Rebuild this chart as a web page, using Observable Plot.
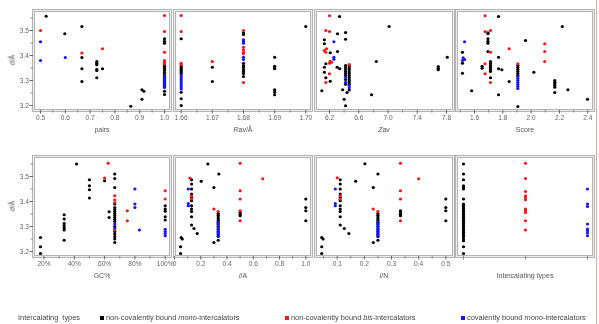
<!DOCTYPE html>
<html><head><meta charset="utf-8">
<script src="https://cdn.jsdelivr.net/npm/d3@7"></script>
<script src="https://cdn.jsdelivr.net/npm/@observablehq/plot@0.6"></script>
<style>
body{margin:0;background:#fff;font-family:"Liberation Sans",Arial,sans-serif;}
#chart{position:relative;width:599px;height:324px;overflow:hidden;background:#fff;}
.p{position:absolute;will-change:transform;}
.lab{position:absolute;font-size:7px;color:#555;white-space:nowrap;transform:translate(-50%,-50%);line-height:1;will-change:transform;}
.ylab{position:absolute;font-size:7px;color:#555;white-space:nowrap;transform:translate(-50%,-50%) rotate(-90deg);line-height:1;will-change:transform;}
.leg{position:absolute;font-size:7.4px;color:#444;white-space:nowrap;line-height:1;transform:translateY(-50%);will-change:transform;}
.sw{position:absolute;width:4px;height:4px;transform:translateY(-50%);}
#redline{position:absolute;left:596px;top:0;width:1px;height:324px;background:#f2a3a3;}
</style></head><body><div id="chart"></div><script>
// ---- data ----
const typeKeys = ["n", "b", "c"];
const typeNames = ["non-covalently bound <i>mono</i>-intercalators", "non-covalently bound <i>bis</i>-intercalators", "covalently bound <i>mono</i>-intercalators"];
const typeColors = ["#000000", "#ff1414", "#1414ff"];
const yTicks = [3.2, 3.3, 3.4, 3.5];
const yMinor = [3.25, 3.35, 3.45, 3.55];

// groups: [x, type, ...y values]
const pairsPts = [
  [0.523,"n",3.557],[0.5,"b",3.5],[0.5,"c",3.455,3.38],[0.598,"n",3.487],[0.6,"c",3.392],
  [0.667,"n",3.516,3.392,3.347,3.296],[0.667,"b",3.41],
  [0.727,"n",3.376,3.369,3.363,3.344,3.34,3.311],[0.75,"b",3.427],[0.75,"n",3.347],
  [0.864,"n",3.197],[0.909,"n",3.263,3.225],[0.917,"n",3.257],
  [1.0,"n",3.467,3.457,3.449,3.364,3.356,3.348,3.34,3.332,3.324,3.316,3.308,3.3,3.292,3.284,3.276,3.257,3.244],
  [1.0,"b",3.56,3.496,3.413,3.38,3.373,3.367],
  [1.0,"c",3.32,3.312,3.304,3.296,3.288,3.28,3.272]
];
const ravPts = [
  [1.66,"n",3.467,3.358,3.352,3.346,3.34,3.334,3.328,3.253,3.227,3.2],
  [1.66,"b",3.56,3.496,3.369,3.364],
  [1.66,"c",3.322,3.314,3.306,3.298,3.29,3.282,3.274,3.266],
  [1.67,"b",3.376],[1.67,"n",3.353,3.296],
  [1.68,"n",3.491,3.484,3.369,3.36,3.353,3.344,3.336,3.328,3.316],
  [1.68,"b",3.5,3.433,3.423,3.413,3.407,3.292],
  [1.68,"c",3.463,3.456,3.449,3.393,3.384],
  [1.69,"n",3.393,3.357,3.351,3.347,3.263,3.253,3.243],
  [1.70,"n",3.516]
];
const zavPts = [
  [6.2,"b",3.559,3.496,3.369,3.327],[6.15,"b",3.5,3.413,3.292],[6.337,"n",3.556],[6.31,"n",3.487,3.416],
  [6.42,"n",3.492,3.465],[6.13,"n",3.463,3.447,3.353,3.333],[6.26,"c",3.455,3.393,3.385],
  [6.13,"b",3.42],[6.16,"b",3.427],[6.21,"n",3.411,3.297],[6.21,"b",3.377],[6.23,"b",3.373],
  [6.15,"n",3.367,3.311],[6.095,"n",3.259],[6.305,"n",3.353],[6.34,"n",3.347],[6.47,"b",3.364],
  [6.42,"n",3.36,3.352,3.344,3.336,3.328,3.32,3.304,3.285,3.199],[6.42,"c",3.313,3.293],
  [6.47,"n",3.358,3.35,3.342,3.334,3.326,3.318,3.31,3.302,3.294,3.286,3.262],[6.47,"c",3.28,3.271],
  [6.38,"n",3.263],[6.44,"n",3.252],[6.4,"n",3.225],
  [6.775,"n",3.243],[6.84,"n",3.376],[7.016,"n",3.516],[7.687,"n",3.356,3.349,3.343],[7.81,"n",3.393]
];
const scorePts = [
  [1.675,"b",3.559,3.496,3.367,3.327],[1.77,"n",3.556,3.393,3.347,3.243],[1.713,"b",3.5,3.413,3.292],
  [1.695,"n",3.491,3.487,3.467,3.457,3.449,3.416],[1.53,"c",3.455,3.384],[1.52,"c",3.391],[1.515,"c",3.38],
  [1.845,"b",3.427],[1.845,"n",3.296],[1.96,"n",3.46],[2.22,"n",3.516],[2.096,"b",3.447,3.416,3.376],
  [1.515,"n",3.413,3.369,3.329],[1.654,"n",3.357,3.349],[1.713,"n",3.376,3.368,3.36,3.352,3.344,3.336,3.311],
  [1.793,"n",3.343],[1.58,"n",3.259],[1.906,"b",3.367],[1.906,"n",3.36,3.352,3.344,3.336,3.328,3.32,3.196],
  [1.906,"c",3.316,3.308,3.3,3.292,3.284,3.276,3.268],[2.019,"n",3.333],
  [2.167,"n",3.3,3.293,3.287,3.28,3.273,3.252],[2.26,"n",3.263],[2.398,"n",3.225]
];
const gcPts = [
  [0.177,"n",3.256,3.219,3.192],[0.333,"n",3.347,3.33,3.312,3.303,3.294,3.286,3.245],[0.415,"n",3.55],
  [0.5,"n",3.487,3.463,3.447,3.414],[0.6,"n",3.483],[0.6,"b",3.494],[0.624,"b",3.553],[0.63,"n",3.359,3.336],
  [0.667,"n",3.51,3.492,3.456,3.39,3.376,3.368,3.36,3.352,3.344,3.336,3.328,3.32,3.3,3.28,3.27,3.26,3.25,3.236],
  [0.667,"b",3.423,3.407,3.396,3.286],[0.667,"c",3.31,3.294],[0.75,"b",3.363,3.323],
  [0.8,"c",3.45,3.39,3.376],[0.83,"c",3.286],
  [1.0,"n",3.383,3.37,3.361,3.339,3.326],[1.0,"b",3.443,3.41],[1.0,"c",3.289,3.28,3.272,3.263]
];
const iaPts = [
  [0.254,"n",3.55],[0.5,"b",3.553,3.443,3.41,3.363,3.323],[0.338,"n",3.51],[0.672,"b",3.491],[0.117,"b",3.494],
  [0.13,"n",3.487,3.47,3.45,3.43,3.416,3.403,3.383,3.37,3.36,3.339,3.306],[0.13,"b",3.423,3.41],
  [0.105,"c",3.45,3.392,3.383],[0.204,"n",3.481],[0.3,"n",3.456,3.236],[0.3,"b",3.37],
  [0.148,"n",3.292],[0.173,"n",3.272],[0.051,"n",3.256],[0.059,"n",3.25],[0.046,"n",3.219,3.192],
  [0.333,"b",3.36],[0.333,"n",3.352,3.345,3.338,3.331,3.324,3.317,3.31,3.3,3.29,3.28,3.27,3.26,3.245],
  [0.333,"c",3.316,3.308,3.3,3.292,3.284,3.276,3.268,3.262],
  [0.5,"n",3.356,3.349,3.343],[1.0,"n",3.41,3.376,3.363,3.323]
];
const inPts = [
  [0.202,"n",3.551],[0.333,"b",3.553,3.443,3.41,3.323],[0.25,"n",3.51],[0.4,"b",3.491],[0.1,"b",3.495],
  [0.111,"n",3.487,3.47,3.45,3.43,3.416,3.403,3.383,3.37,3.36,3.339,3.306],[0.111,"b",3.423,3.41],
  [0.093,"c",3.45,3.392,3.383],[0.168,"n",3.481],[0.233,"n",3.456,3.236],[0.233,"b",3.37],
  [0.126,"n",3.292],[0.143,"n",3.272],[0.043,"n",3.256,3.219,3.192],[0.048,"n",3.25],
  [0.25,"b",3.36],[0.25,"n",3.352,3.345,3.338,3.331,3.324,3.317,3.31,3.3,3.29,3.28,3.27,3.26,3.245],
  [0.25,"c",3.316,3.308,3.3,3.292,3.284,3.276,3.268,3.262],
  [0.333,"n",3.363,3.356,3.349,3.343],[0.5,"n",3.41,3.376,3.363,3.323]
];
const typesPts = [
  ["n","n",3.55,3.51,3.487,3.463,3.456,3.45,3.41,3.39,3.384,3.378,3.372,3.366,3.36,3.354,3.348,3.342,3.336,3.33,3.324,3.318,3.312,3.306,3.3,3.294,3.288,3.282,3.276,3.27,3.264,3.258,3.25,3.243,3.219,3.192],
  ["b","b",3.553,3.492,3.44,3.423,3.416,3.407,3.37,3.363,3.356,3.323,3.286],
  ["c","c",3.45,3.39,3.38,3.31,3.29,3.283,3.274,3.263]
];

const pairsTicks = [0.5,0.6,0.7,0.8,0.9,1.0], pairsMinor = [0.55,0.65,0.75,0.85,0.95];
const ravTicks = [1.66,1.67,1.68,1.69,1.70], ravMinor = [1.665,1.675,1.685,1.695];
const zavTicks = [6.2,6.6,7.0,7.4,7.8], zavMinor = [6.4,6.8,7.2,7.6];
const scoreTicks = [1.6,1.8,2.0,2.2,2.4], scoreMinor = [1.5,1.7,1.9,2.1,2.3];
const gcTicks = [0.2,0.4,0.6,0.8,1.0], gcMinor = [0.3,0.5,0.7,0.9];
const iaTicks = [0,0.2,0.4,0.6,0.8,1.0], iaMinor = [0.1,0.3,0.5,0.7,0.9];
const inTicks = [0.1,0.2,0.3,0.4,0.5], inMinor = [0.05,0.15,0.25,0.35,0.45];

const xLabels = ["pairs", "<i>R</i>av/Å", "<i>Z</i>av", "Score", "GC%", "<i>i</i>/A", "<i>i</i>/N", "Intercalating types"];
const yLabel = "<i>d</i>/Å";
const legendTitle = "Intercalating &nbsp;types";

// ---- drawing ----
const chart = document.getElementById("chart");
function expand(groups) {
  const out = [];
  for (const g of groups) { const [x, t, ...ys] = g; for (const y of ys) out.push({x, y, t}); }
  return out;
}
const FH = 100;
function panel(cfg) {
  const ml = cfg.left ? 33 : 4, mr = 4, mt = 4, mb = 26;
  const pts = expand(cfg.data);
  const xScale = cfg.point
    ? {type: "point", domain: typeKeys, padding: 0.1, axis: null}
    : {domain: cfg.domain, axis: null};
  const marks = [
    Plot.frame({stroke: "#b4b4b4", strokeWidth: 3}),
    Plot.frame({stroke: "#ececec", strokeWidth: 1}),
  ];
  if (cfg.minor) marks.push(Plot.axisX(cfg.minor, {tickSize: 2.5, tickFormat: () => "", color: "#888", label: null}));
  if (cfg.point) marks.push(Plot.axisX({tickSize: 3.5, tickFormat: () => "", color: "#888", label: null}));
  else marks.push(Plot.axisX(cfg.ticks, {tickSize: 3.5, tickPadding: 1, tickFormat: cfg.fmt, color: "#666", label: null}));
  if (cfg.left) {
    marks.push(Plot.axisY(yMinor, {tickSize: 2.5, tickFormat: () => "", color: "#888", label: null}));
    marks.push(Plot.axisY(yTicks, {tickSize: 3.5, tickPadding: 1, tickFormat: d => d.toFixed(1), color: "#666", label: null}));
  }
  typeKeys.forEach((k, i) => {
    marks.push(Plot.dot(pts.filter(d => d.t === k), {x: "x", y: "y", r: 1.6, fill: typeColors[i], stroke: "none"}));
  });
  const svg = Plot.plot({
    width: ml + cfg.w + mr, height: mt + FH + mb,
    marginLeft: ml, marginRight: mr, marginTop: mt, marginBottom: mb,
    x: xScale,
    y: {domain: [3.18, 3.58], axis: null},
    style: {background: "transparent", overflow: "visible", fontSize: "6.6px", fontFamily: "Liberation Sans, Arial, sans-serif", color: "#666"},
    marks
  });
  svg.classList.add("p");
  svg.style.left = (cfg.fx - ml) + "px";
  svg.style.top = (cfg.fy - mt) + "px";
  chart.appendChild(svg);
  const lab = document.createElement("div");
  lab.className = "lab";
  lab.innerHTML = cfg.label;
  lab.style.left = (cfg.fx + cfg.w / 2) + "px";
  lab.style.top = (cfg.fy + FH + 18.5) + "px";
  chart.appendChild(lab);
  if (cfg.left) {
    const yl = document.createElement("div");
    yl.className = "ylab";
    yl.innerHTML = yLabel;
    yl.style.left = "12px";
    yl.style.top = (cfg.fy + FH / 2) + "px";
    chart.appendChild(yl);
  }
}
const f1 = d => d.toFixed(1), f2 = d => d.toFixed(2);
const row1 = 10, row2 = 156;
panel({data: pairsPts, domain: [0.4718, 1.0242], ticks: pairsTicks, minor: pairsMinor, fmt: f1, label: xLabels[0], fx: 33, fy: row1, w: 137, left: true});
panel({data: ravPts, domain: [1.65785, 1.70183], ticks: ravTicks, minor: ravMinor, fmt: f2, label: xLabels[1], fx: 174, fy: row1, w: 137});
panel({data: zavPts, domain: [6.0085, 7.8957], ticks: zavTicks, minor: zavMinor, fmt: f1, label: xLabels[2], fx: 315, fy: row1, w: 138});
panel({data: scorePts, domain: [1.4729, 2.4403], ticks: scoreTicks, minor: scoreMinor, fmt: f1, label: xLabels[3], fx: 456, fy: row1, w: 137});
panel({data: gcPts, domain: [0.1307, 1.035], ticks: gcTicks, minor: gcMinor, fmt: d => Math.round(d * 100) + "%", label: xLabels[4], fx: 33, fy: row2, w: 137, left: true});
panel({data: iaPts, domain: [0, 1.0434], ticks: iaTicks, minor: iaMinor, fmt: d => d === 0 ? "0" : d.toFixed(1), label: xLabels[5], fx: 174, fy: row2, w: 137});
panel({data: inPts, domain: [0.02, 0.5284], ticks: inTicks, minor: inMinor, fmt: f1, label: xLabels[6], fx: 315, fy: row2, w: 138});
panel({data: typesPts, point: true, label: xLabels[7], fx: 456, fy: row2, w: 137});

// legend
const LY = 318;
function addLeg(html, x) {
  const t = document.createElement("div"); t.className = "leg"; t.innerHTML = html;
  t.style.left = x + "px"; t.style.top = LY + "px"; chart.appendChild(t);
}
addLeg(legendTitle, 18);
const swX = [100, 284.5, 460.5];
typeKeys.forEach((k, i) => {
  const s = document.createElement("div"); s.className = "sw";
  s.style.left = swX[i] + "px"; s.style.top = LY + "px"; s.style.background = typeColors[i];
  chart.appendChild(s);
  addLeg(typeNames[i], swX[i] + 6);
});
const rl = document.createElement("div"); rl.id = "redline"; chart.appendChild(rl);
</script></body></html>
